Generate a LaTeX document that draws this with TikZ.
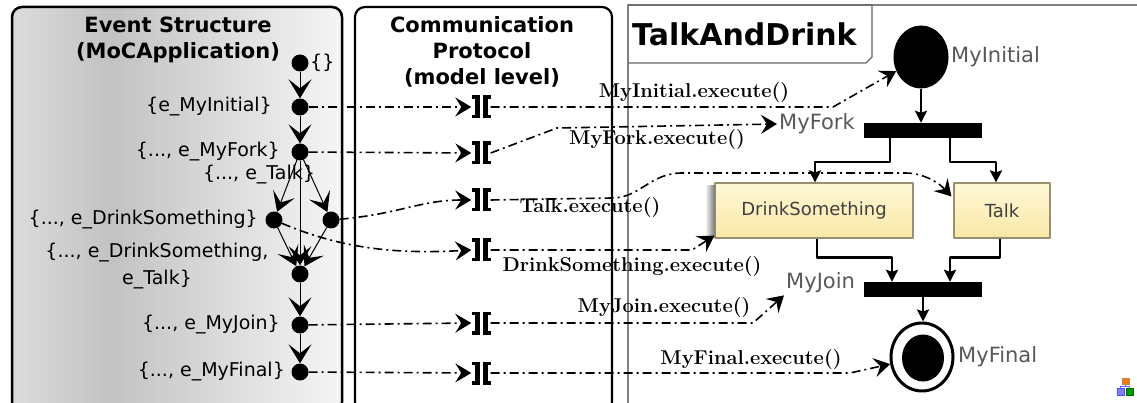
\documentclass[tikz,border=0pt]{standalone}
\usepackage{fontspec}
\newfontfamily\dvs{DejaVu Sans}
\usetikzlibrary{arrows.meta,calc,shapes.geometric}
\definecolor{gA}{HTML}{DCDCDC}
\definecolor{gB}{HTML}{C2C2C2}
\definecolor{gC}{HTML}{F5F5F5}
\definecolor{boxtop}{HTML}{FFF8D6}
\definecolor{boxbot}{HTML}{F8E7A6}
\definecolor{boxline}{HTML}{9A9070}
\definecolor{panel}{HTML}{808080}
\newcommand\portglyph[1]{%
  \fill ($(#1)+(-9.5,-11.5)$) rectangle ($(#1)+(-1.5,-8)$);
  \fill ($(#1)+(-9.5,11.5)$) rectangle ($(#1)+(-1.5,8)$);
  \fill ($(#1)+(-6.5,-11.5)$) rectangle ($(#1)+(-1.5,11.5)$);
  \fill ($(#1)+(1.5,-11.5)$) rectangle ($(#1)+(9.5,-8)$);
  \fill ($(#1)+(1.5,11.5)$) rectangle ($(#1)+(9.5,8)$);
  \fill ($(#1)+(1.5,-11.5)$) rectangle ($(#1)+(6.5,11.5)$);
}
\begin{document}
\begin{tikzpicture}[x=1pt,y=-1pt,
  dot/.style={circle, fill=black, minimum size=17pt, inner sep=0pt},
  evarr/.style={line width=1pt, -{Stealth[length=19pt,width=23pt,inset=9pt]}},
  evlab/.style={font=\dvs\fontsize{19}{23}\selectfont, inner sep=1pt},
  ttl/.style={font=\dvs\bfseries\fontsize{21}{26}\selectfont, align=center, inner sep=0pt},
  ddline/.style={line width=1.6pt, dash pattern=on 9pt off 4pt on 2pt off 4pt},
  dd/.style={ddline, -{Stealth[length=16pt,width=19pt,inset=6pt]}},
  port/.style={minimum width=19pt, minimum height=23pt, inner sep=0pt},
  calllab/.style={font=\bfseries\fontsize{20}{24}\selectfont, inner sep=0pt},
  umllab/.style={font=\dvs\fontsize{21}{25}\selectfont, text=black!65, inner sep=2pt},
  bar/.style={fill=black, minimum width=118pt, minimum height=15pt, inner sep=0pt},
  action/.style={draw=boxline, line width=1.2pt, top color=boxtop, bottom color=boxbot,
    font=\dvs\fontsize{18}{22}\selectfont, text=black!75, minimum height=55pt, inner sep=0pt},
  uml/.style={line width=2.4pt, -{Stealth[length=12pt,width=12pt,inset=2pt]}},
  line join=round]
\useasboundingbox (0,0) rectangle (1137,403);
\fill[white] (0,0) rectangle (1137,403);
% ---------- left box
\begin{scope}
  \clip[rounded corners=10pt] (12,7) rectangle (342,412);
  \shade[left color=gA, right color=gB] (12,7) rectangle (110.5,412);
  \shade[left color=gB, right color=gC] (110,7) rectangle (342,412);
\end{scope}
\draw[line width=2.5pt, rounded corners=10pt] (12,7) rectangle (342,412);
\node[ttl] (ttlE) at (178,40) {Event Structure\\(MoCApplication)};
% ---------- middle box
\draw[line width=2.2pt, rounded corners=10pt] (355,7) rectangle (612,412);
\node[ttl] (ttlC) at (482,52) {Communication\\Protocol\\(model level)};
% ---------- right panel
\draw[panel, line width=1.3pt] (628,403) -- (628,5) -- (1137,5);
\draw[black!60, line width=1.2pt] (628,5) -- (872,5) -- (872,57) -- (866,63) -- (628,63);
\node[font=\dvs\bfseries\fontsize{30}{34}\selectfont, anchor=west, inner sep=2pt] (tad) at (630,34) {TalkAndDrink};
% ---------- event structure
\node[dot] (e0) at (300,63) {};
\node[dot] (e1) at (300,107) {};
\node[dot] (e2) at (300,152) {};
\node[dot] (eD) at (274,220) {};
\node[dot] (eT) at (331,220) {};
\node[dot] (eM) at (300,274) {};
\node[dot] (eJ) at (300,325) {};
\node[dot] (eF) at (300,372) {};
\draw[evarr] (e0) -- (e1);
\draw[evarr] (e1) -- (e2);
\draw[evarr] (e2) -- (eD);
\draw[evarr] (e2) -- (eT);
\draw[evarr] (e2) -- (eM);
\draw[evarr] (eD) -- (eM);
\draw[evarr] (eT) -- (eM);
\draw[evarr] (eM) -- (eJ);
\draw[evarr] (eJ) -- (eF);
\node[evlab, anchor=west] (l0) at (309,63) {\{\}};
\node[evlab, anchor=east] (l1) at (273,107) {\{e\_MyInitial\}};
\node[evlab, anchor=east] (l2) at (281,152) {\{..., e\_MyFork\}};
\node[evlab] (lT) at (259,175) {\{..., e\_Talk\}};
\node[evlab, anchor=east] (lD) at (259,220) {\{..., e\_DrinkSomething\}};
\node[evlab, align=center, font=\dvs\fontsize{19}{27}\selectfont] (lM) at (157,266) {\{..., e\_DrinkSomething,\\e\_Talk\}};
\node[evlab, anchor=east] (lJ) at (281,325) {\{..., e\_MyJoin\}};
\node[evlab, anchor=east] (lF) at (286,372) {\{..., e\_MyFinal\}};
% ---------- ports
\node[port] (p1) at (481,107) {};
\node[port] (p2) at (481,153) {};
\node[port] (p3) at (481,200) {};
\node[port] (p4) at (481,250) {};
\node[port] (p5) at (481,323) {};
\node[port] (p6) at (481,373) {};
\foreach \p in {p1,p2,p3,p4,p5,p6} {\portglyph{\p}}
\draw[dd] (e1) -- (p1.west);
\draw[dd] (e2) -- (p2.west);
\draw[dd] (eT) .. controls (400,214) and (420,200) .. (p3.west);
\draw[dd] (eD) .. controls (345,250) and (400,254) .. (p4.west);
\draw[dd] (eJ) -- (p5.west);
\draw[dd] (eF) -- (p6.west);
% ---------- UML activity
\node[ellipse, fill=black, minimum width=55pt, minimum height=63pt, inner sep=0pt] (init) at (921,57) {};
\node[umllab, anchor=west] (initlab) at (949,57) {MyInitial};
\node[bar] (fork) at (923,130.5) {};
\node[umllab, anchor=west] (forklab) at (777,124) {MyFork};
\node[action, minimum width=198pt] (ds) at (814,210.5) {DrinkSomething};
\node[action, minimum width=96pt] (talk) at (1002,210.5) {Talk};
\shade[left color=white, right color=black!55] (705,186) rectangle (715,238);
\node[bar] (join) at (923,289.5) {};
\node[umllab, anchor=west] (joinlab) at (784,283) {MyJoin};
\node[ellipse, draw, line width=3pt, fill=white, minimum width=62pt, minimum height=68pt, inner sep=0pt] (final) at (922,357) {};
\node[ellipse, fill=black, minimum width=42pt, minimum height=47pt, inner sep=0pt] (finalin) at (923,358) {};
\node[umllab, anchor=west] (finallab) at (956,357) {MyFinal};
\draw[uml] (init) -- (init |- fork.north);
\draw[uml] ([xshift=-33pt]fork.south) -- ++(0,24) -| ([xshift=1pt]ds.north);
\draw[uml] ([xshift=27pt]fork.south) -- ++(0,24) -| ([xshift=-6pt]talk.north);
\draw[uml] ([xshift=3pt]ds.south) -- ++(0,19) -| ([xshift=-31pt]join.north);
\draw[uml] ([xshift=-2pt]talk.south) -- ++(0,19) -| ([xshift=27pt]join.north);
\draw[uml] (join) -- (join |- final.north);
% ---------- calls
\coordinate (c1) at (833,107);
\coordinate (c2) at (557,128);
\coordinate (c4) at (692,250);
\coordinate (c5) at (753,323);
\coordinate (c6) at (850,373);
\draw[dd] (p1.east) -- (c1) -- (init);
\draw[dd] (p2.east) -- (c2) -- (forklab.west);
\draw[dd] (p3.east) -- (612,198) .. controls (640,198) and (650,173) .. (682,173) -- (905,173) .. controls (925,173) and (940,184) .. ($(talk.north west)+(-2,14)$);
\draw[dd] (p4.east) -- (c4) -- ($(ds.south west)+(0,-3)$);
\draw[dd] (p5.east) -- (c5) -- (joinlab.south west);
\draw[dd] (p6.east) -- (c6) -- (final);
\node[calllab] (k1) at (694,93) {MyInitial.execute()};
\node[calllab] (k2) at (657,140) {MyFork.execute()};
\node[calllab] (k3) at (590,208) {Talk.execute()};
\node[calllab] (k4) at (632,267) {DrinkSomething.execute()};
\node[calllab] (k5) at (664,308) {MyJoin.execute()};
\node[calllab] (k6) at (751,360) {MyFinal.execute()};
% ---------- small icon
\draw[blue!60, line width=0.8pt] (1125.5,384) -- (1125.5,386) (1120.5,388) -- (1120.5,386) -- (1129.5,386) -- (1129.5,388);
\draw[fill=orange!70!brown, draw=brown] (1122,378) rectangle (1129,384);
\draw[fill=blue!50, draw=blue!70] (1117,388) rectangle (1124,395);
\draw[fill=green!60!black, draw=green!40!black] (1126,388) rectangle (1133,395);
\end{tikzpicture}
\end{document}
